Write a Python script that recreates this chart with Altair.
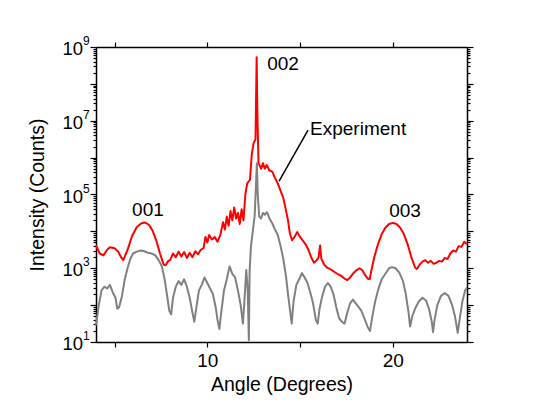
import altair as alt
import pandas as pd

# ---------------- data ----------------
red_angle = [4.00, 4.20, 4.40, 4.60, 4.75, 5.00, 5.20, 5.35, 5.47, 5.70, 5.95, 6.20, 6.45, 6.65,
             6.85, 7.05, 7.25, 7.45, 7.65, 7.75, 7.90, 8.00, 8.15, 8.30, 8.45, 8.60, 8.75, 8.90,
             9.05, 9.20, 9.35, 9.50, 9.65, 9.80, 9.90, 10.00, 10.10, 10.25, 10.40, 10.55, 10.70,
             10.85, 10.95, 11.05, 11.15, 11.25, 11.35, 11.45, 11.55, 11.65, 11.75, 11.85, 11.95,
             12.05, 12.15, 12.30, 12.40, 12.50, 12.60, 12.66, 12.70, 12.76, 12.90, 13.00, 13.10,
             13.20, 13.35, 13.50, 13.65, 13.80, 13.95, 14.10, 14.25, 14.35, 14.45, 14.57, 14.70,
             14.85, 15.00, 15.15, 15.30, 15.45, 15.60, 15.75, 15.90, 16.00, 16.08, 16.15, 16.30,
             16.45, 16.60, 16.80, 17.00, 17.20, 17.40, 17.55, 17.70, 17.90, 18.05, 18.20, 18.35,
             18.50, 18.65, 18.75, 18.85, 19.00, 19.20, 19.40, 19.60, 19.80, 20.00, 20.20, 20.40,
             20.60, 20.80, 21.00, 21.20, 21.30, 21.45, 21.60, 21.75, 21.90, 22.05, 22.20, 22.35,
             22.50, 22.65, 22.80, 22.95, 23.10, 23.25, 23.40, 23.55, 23.70, 23.85, 24.00]
red_log10 = [3.62, 3.40, 3.35, 3.50, 3.57, 3.54, 3.45, 3.30, 3.22, 3.50, 3.88, 4.12, 4.22, 4.24,
             4.18, 4.02, 3.75, 3.40, 3.10, 3.08, 3.20, 3.22, 3.40, 3.30, 3.45, 3.32, 3.44, 3.28,
             3.42, 3.30, 3.46, 3.38, 3.50, 3.55, 3.85, 3.70, 3.90, 3.78, 3.85, 3.72, 3.90,
             4.25, 4.05, 4.40, 4.15, 4.55, 4.30, 4.65, 4.35, 4.50, 4.20, 4.60, 4.30,
             5.00, 5.30, 5.40, 6.10, 6.40, 6.50, 8.72, 7.20, 5.85, 5.70, 5.85, 5.70,
             5.80, 5.65, 5.62, 5.45, 5.30, 5.10, 4.90, 4.55, 4.30, 3.95, 3.76, 3.85,
             3.98, 3.85, 3.75, 3.65, 3.50, 3.30, 3.15, 3.22, 3.30, 3.62, 3.25, 3.10,
             3.02, 2.98, 2.92, 2.85, 2.80, 2.72, 2.68, 2.75, 2.88, 2.95, 3.00, 2.95,
             2.82, 2.72, 2.70, 2.95, 3.30, 3.65, 3.92, 4.10, 4.20, 4.23, 4.20, 4.10,
             3.92, 3.65, 3.30, 3.02, 2.98, 3.10, 3.18, 3.22, 3.15, 3.20, 3.12, 3.15,
             3.20, 3.18, 3.28, 3.25, 3.40, 3.48, 3.45, 3.60, 3.58, 3.72, 3.65]

gray_angle = [4.00, 4.15, 4.30, 4.45, 4.60, 4.75, 4.90, 5.05, 5.15, 5.25, 5.40, 5.55, 5.70, 5.85,
              6.00, 6.20, 6.40, 6.60, 6.80, 7.00, 7.20, 7.40, 7.55, 7.70, 7.85, 7.95, 8.05, 8.15,
              8.30, 8.45, 8.60, 8.75, 8.90, 9.05, 9.20, 9.30, 9.40, 9.55, 9.70, 9.85, 10.00, 10.15,
              10.30, 10.45, 10.55, 10.65, 10.75, 10.90, 11.05, 11.20, 11.35, 11.50, 11.65, 11.80,
              11.92, 12.00, 12.10, 12.18, 12.24, 12.28, 12.35, 12.45, 12.55, 12.62, 12.67, 12.72,
              12.80, 12.90, 13.00, 13.10, 13.22, 13.35, 13.50, 13.65, 13.80, 13.95, 14.10, 14.25,
              14.35, 14.45, 14.55, 14.65, 14.80, 14.95, 15.10, 15.25, 15.40, 15.55, 15.70, 15.85,
              15.95, 16.05, 16.20, 16.35, 16.50, 16.65, 16.80, 16.95, 17.10, 17.25, 17.40, 17.55,
              17.70, 17.85, 18.00, 18.15, 18.30, 18.50, 18.65, 18.77, 18.90, 19.05, 19.20, 19.40,
              19.60, 19.80, 19.96, 20.15, 20.35, 20.55, 20.70, 20.85, 20.93, 21.05, 21.20, 21.40,
              21.60, 21.80, 21.95, 22.10, 22.17, 22.25, 22.40, 22.60, 22.80, 23.00, 23.20, 23.35,
              23.50, 23.60, 23.75, 23.90, 24.00]
gray_log10 = [1.45, 2.00, 2.40, 2.50, 2.45, 2.55, 2.35, 2.20, 1.90, 1.95, 2.25, 2.70, 3.00, 3.25,
              3.40, 3.45, 3.48, 3.46, 3.42, 3.40, 3.35, 3.20, 3.05, 2.70, 2.20, 1.85, 1.75, 2.20,
              2.50, 2.65, 2.55, 2.70, 2.50, 2.20, 1.80, 1.55, 1.90, 2.40, 2.55, 2.75, 2.60, 2.45,
              2.30, 1.95, 1.60, 1.35, 1.80, 2.40, 2.70, 3.05, 2.85, 2.75, 2.40, 2.00,
              1.50, 2.10, 2.95, 2.40, 1.05, 2.90, 3.57, 4.00, 4.40, 5.20, 5.85, 5.00,
              4.40, 4.35, 4.50, 4.45, 4.52, 4.35, 4.22, 4.05, 3.90, 3.60, 3.25, 2.75,
              2.30, 1.90, 1.50, 2.10, 2.55, 2.70, 2.87, 2.75, 2.60, 2.35, 2.05, 1.60,
              1.50, 1.90, 2.25, 2.50, 2.60, 2.50, 2.30, 1.95, 1.65, 1.55, 1.50, 1.80,
              2.05, 2.15, 2.05, 1.95, 1.85, 1.60, 1.40, 1.30, 1.70, 2.10, 2.40, 2.70,
              2.85, 3.00, 3.03, 3.00, 2.88, 2.65, 2.30, 1.80, 1.42, 1.70, 1.90, 2.10,
              2.20, 2.12, 1.90, 1.55, 1.27, 1.60, 2.00, 2.25, 2.33, 2.25, 2.00, 1.70,
              1.25, 1.60, 2.10, 2.40, 2.48]

peak_labels = ["001", "002", "003"]
peak_x = [6.80, 14.08, 20.66]
peak_y = [3.8e4, 3.4e8, 3.5e4]

note_label = ["Experiment"]
note_x = [15.54]
note_y = [5.9e6]

pointer_x = [15.43]
pointer_y = [5.6e6]
pointer_x2 = [13.87]
pointer_y2 = [2.3e5]

ylabel_values = [1e1, 1e3, 1e5, 1e7, 1e9]
ylabel_exponents = ["1", "3", "5", "7", "9"]

x_ticks = [5, 10, 15, 20]
decades = [10 ** d for d in range(1, 10)]
y_ticks = [m * 10 ** d for d in range(1, 9) for m in range(1, 10)] + [10 ** 9]

FONT = "Liberation Sans"

red_df = pd.DataFrame({"angle": red_angle, "intensity": [10 ** v for v in red_log10]})
gray_df = pd.DataFrame({"angle": gray_angle, "intensity": [10 ** v for v in gray_log10]})
peak_df = pd.DataFrame({"angle": peak_x, "intensity": peak_y, "label": peak_labels})
note_df = pd.DataFrame({"angle": note_x, "intensity": note_y, "label": note_label})
ptr_df = pd.DataFrame({"x": pointer_x, "y": pointer_y, "x2": pointer_x2, "y2": pointer_y2})
ylab_df = pd.DataFrame({"angle": [4] * len(ylabel_values), "intensity": ylabel_values,
                        "exp": ylabel_exponents})

xscale = alt.Scale(domain=[4, 24], nice=False, zero=False)
yscale = alt.Scale(type="log", domain=[10, 1e9], nice=False)

decade_test = "indexof([" + ",".join(str(v) for v in decades) + "], datum.value) >= 0"
ytick_size = {"condition": {"test": decade_test, "value": 6}, "value": 3}

common_axis = dict(grid=False, domainColor="black", domainWidth=1.5, tickColor="black",
                   tickWidth=1.2, labelFont=FONT, titleFont=FONT, labelColor="black",
                   titleColor="black", titleFontWeight="normal")

x_bottom = alt.Axis(orient="bottom", values=x_ticks, tickSize=5,
                    labelExpr="datum.value % 10 == 0 ? datum.label : ''",
                    labelFontSize=19, labelPadding=4, title="Angle (Degrees)",
                    titleFontSize=19.5, titlePadding=5, **common_axis)
y_left = alt.Axis(orient="left", values=y_ticks, tickSize=ytick_size, labels=False,
                  title="Intensity (Counts)", titleFontSize=19.5, titlePadding=42, **common_axis)
x_top = alt.Axis(orient="top", values=x_ticks, tickSize=5, labels=False, title=None, **common_axis)
y_right = alt.Axis(orient="right", values=y_ticks, tickSize=ytick_size, labels=False, title=None,
                   **common_axis)

red = alt.Chart(red_df).mark_line(color="#ff0000", strokeWidth=2, strokeJoin="round").encode(
    x=alt.X("angle:Q", scale=xscale, axis=x_bottom),
    y=alt.Y("intensity:Q", scale=yscale, axis=y_left),
    order="angle:Q",
)
gray = alt.Chart(gray_df).mark_line(color="#808080", strokeWidth=2, strokeJoin="round").encode(
    x=alt.X("angle:Q", scale=xscale, axis=x_top),
    y=alt.Y("intensity:Q", scale=yscale, axis=y_right),
    order="angle:Q",
)
peaks = alt.Chart(peak_df).mark_text(font=FONT, fontSize=19, color="black", align="center",
                                     baseline="middle").encode(
    x=alt.X("angle:Q", scale=xscale, axis=None),
    y=alt.Y("intensity:Q", scale=yscale, axis=None),
    text="label:N",
)
note = alt.Chart(note_df).mark_text(font=FONT, fontSize=19, color="black", align="left",
                                    baseline="middle").encode(
    x=alt.X("angle:Q", scale=xscale, axis=None),
    y=alt.Y("intensity:Q", scale=yscale, axis=None),
    text="label:N",
)
pointer = alt.Chart(ptr_df).mark_rule(color="black", strokeWidth=1.5).encode(
    x=alt.X("x:Q", scale=xscale, axis=None),
    y=alt.Y("y:Q", scale=yscale, axis=None),
    x2="x2:Q",
    y2="y2:Q",
)
ylab_base = alt.Chart(ylab_df).mark_text(font=FONT, fontSize=18.5, color="black", align="right",
                                         baseline="middle", dx=-13, dy=2).encode(
    x=alt.X("angle:Q", scale=xscale, axis=None),
    y=alt.Y("intensity:Q", scale=yscale, axis=None),
    text=alt.value("10"),
)
ylab_exp = alt.Chart(ylab_df).mark_text(font=FONT, fontSize=12, color="black", align="left",
                                        baseline="middle", dx=-13, dy=-6).encode(
    x=alt.X("angle:Q", scale=xscale, axis=None),
    y=alt.Y("intensity:Q", scale=yscale, axis=None),
    text="exp:N",
)

chart = alt.layer(red, gray, peaks, note, pointer, ylab_base, ylab_exp).resolve_axis(
    x="independent", y="independent"
).properties(
    width=371,
    height=295,
    padding={"left": 88, "top": 39, "right": 30, "bottom": 62},
    autosize=alt.AutoSizeParams(type="none"),
    background="white",
).configure_view(stroke=None)

chart.save("out.html", embed_options={"renderer": "svg", "actions": False})
